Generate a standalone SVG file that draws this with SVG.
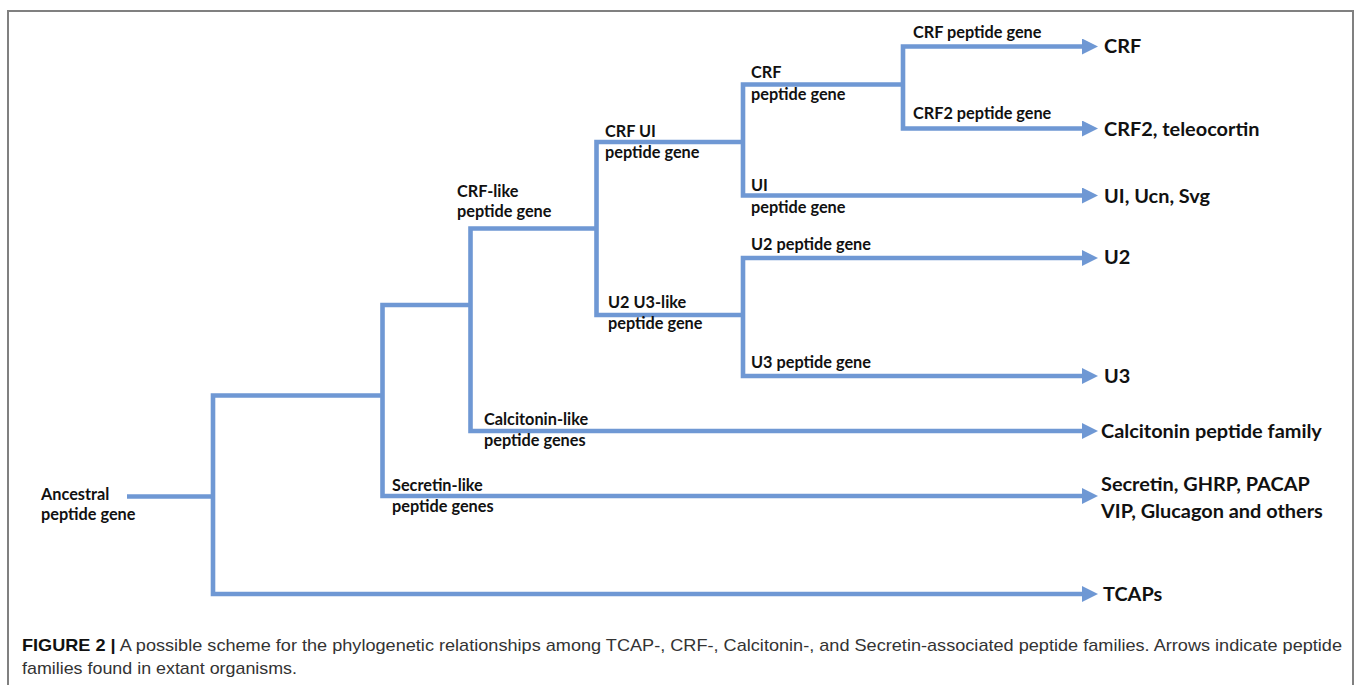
<svg xmlns="http://www.w3.org/2000/svg" width="1357" height="685" viewBox="0 0 1357 685">
<defs>
<style>
.frame{fill:none;stroke:#808080;stroke-width:2}
.br{fill:none;stroke:#6f98d4;stroke-width:4.6;stroke-linejoin:miter;stroke-linecap:butt}
.lbl{font-family:Lato,"Open Sans",sans-serif;font-weight:700;font-size:16.3px;fill:#111}
.big{font-family:Lato,"Open Sans",sans-serif;font-weight:700;font-size:19.9px;fill:#111}
.cap{font-family:"Liberation Sans",Arial,sans-serif;font-size:17px;fill:#333}
.capb{font-weight:700;fill:#111}
</style>
<marker id="ah" markerUnits="userSpaceOnUse" markerWidth="16" markerHeight="16" viewBox="0 0 16 16" refX="0" refY="8" orient="auto-start-reverse">
<path d="M0,0 L16,8 L0,16 Z" fill="#6f98d4"/>
</marker>
</defs>
<rect width="1357" height="685" fill="#fff"/>
<path class="frame" d="M8,686 V11 H1353 V686"/>
<g id="connectors">
<path class="br" d="M127,496.5 H213"/>
<path class="br" d="M382,395.5 H213 V594 H1082" marker-end="url(#ah)"/>
<path class="br" d="M470,305 H382.5 V496 H1082" marker-end="url(#ah)"/>
<path class="br" d="M597,228.5 H470.5 V431 H1082" marker-end="url(#ah)"/>
<path class="br" d="M743,142 H596.5 V315 H743"/>
<path class="br" d="M903,84.5 H743 V195.5 H1082" marker-end="url(#ah)"/>
<path class="br" d="M1082,46.5 H903 V128.5 H1082" marker-start="url(#ah)" marker-end="url(#ah)"/>
<path class="br" d="M1082,258 H743 V376 H1082" marker-start="url(#ah)" marker-end="url(#ah)"/>
</g>
<g id="ancestral"><text class="lbl" x="41" y="500">Ancestral</text><text class="lbl" x="41" y="520">peptide gene</text></g>
<g id="secretin-like"><text class="lbl" x="392" y="491">Secretin-like</text><text class="lbl" x="392" y="512">peptide genes</text></g>
<g id="calcitonin-like"><text class="lbl" x="484" y="425">Calcitonin-like</text><text class="lbl" x="484" y="446">peptide genes</text></g>
<g id="crf-like"><text class="lbl" x="457" y="197">CRF-like</text><text class="lbl" x="457" y="217">peptide gene</text></g>
<g id="crf-ui"><text class="lbl" x="605" y="137">CRF UI</text><text class="lbl" x="605" y="158">peptide gene</text></g>
<g id="u2u3-like"><text class="lbl" x="608" y="308">U2 U3-like</text><text class="lbl" x="608" y="329">peptide gene</text></g>
<g id="crf-gene"><text class="lbl" x="751" y="78">CRF</text><text class="lbl" x="751" y="100">peptide gene</text></g>
<g id="ui-gene"><text class="lbl" x="751" y="191">UI</text><text class="lbl" x="751" y="213">peptide gene</text></g>
<g id="u2-gene"><text class="lbl" x="751" y="250">U2 peptide gene</text></g>
<g id="u3-gene"><text class="lbl" x="751" y="368">U3 peptide gene</text></g>
<g id="crf-pep"><text class="lbl" x="913" y="38">CRF peptide gene</text></g>
<g id="crf2-pep"><text class="lbl" x="913" y="119">CRF2 peptide gene</text></g>
<g id="out-crf"><text class="big" x="1104" y="53">CRF</text></g>
<g id="out-crf2"><text class="big" x="1104" y="136">CRF2, teleocortin</text></g>
<g id="out-ui"><text class="big" x="1104" y="203">UI, Ucn, Svg</text></g>
<g id="out-u2"><text class="big" x="1104" y="264">U2</text></g>
<g id="out-u3"><text class="big" x="1104" y="383">U3</text></g>
<g id="out-calcitonin"><text class="big" x="1101" y="438">Calcitonin peptide family</text></g>
<g id="out-secretin"><text class="big" x="1101" y="491">Secretin, GHRP, PACAP</text><text class="big" x="1101" y="518">VIP, Glucagon and others</text></g>
<g id="out-tcap"><text class="big" x="1103" y="601">TCAPs</text></g>
<g id="caption">
<text class="cap" x="22" y="651" textLength="1320" lengthAdjust="spacingAndGlyphs"><tspan class="capb">FIGURE 2 |</tspan> A possible scheme for the phylogenetic relationships among TCAP-, CRF-, Calcitonin-, and Secretin-associated peptide families. Arrows indicate peptide</text>
<text class="cap" x="22" y="674" textLength="275" lengthAdjust="spacingAndGlyphs">families found in extant organisms.</text>
</g>
</svg>
